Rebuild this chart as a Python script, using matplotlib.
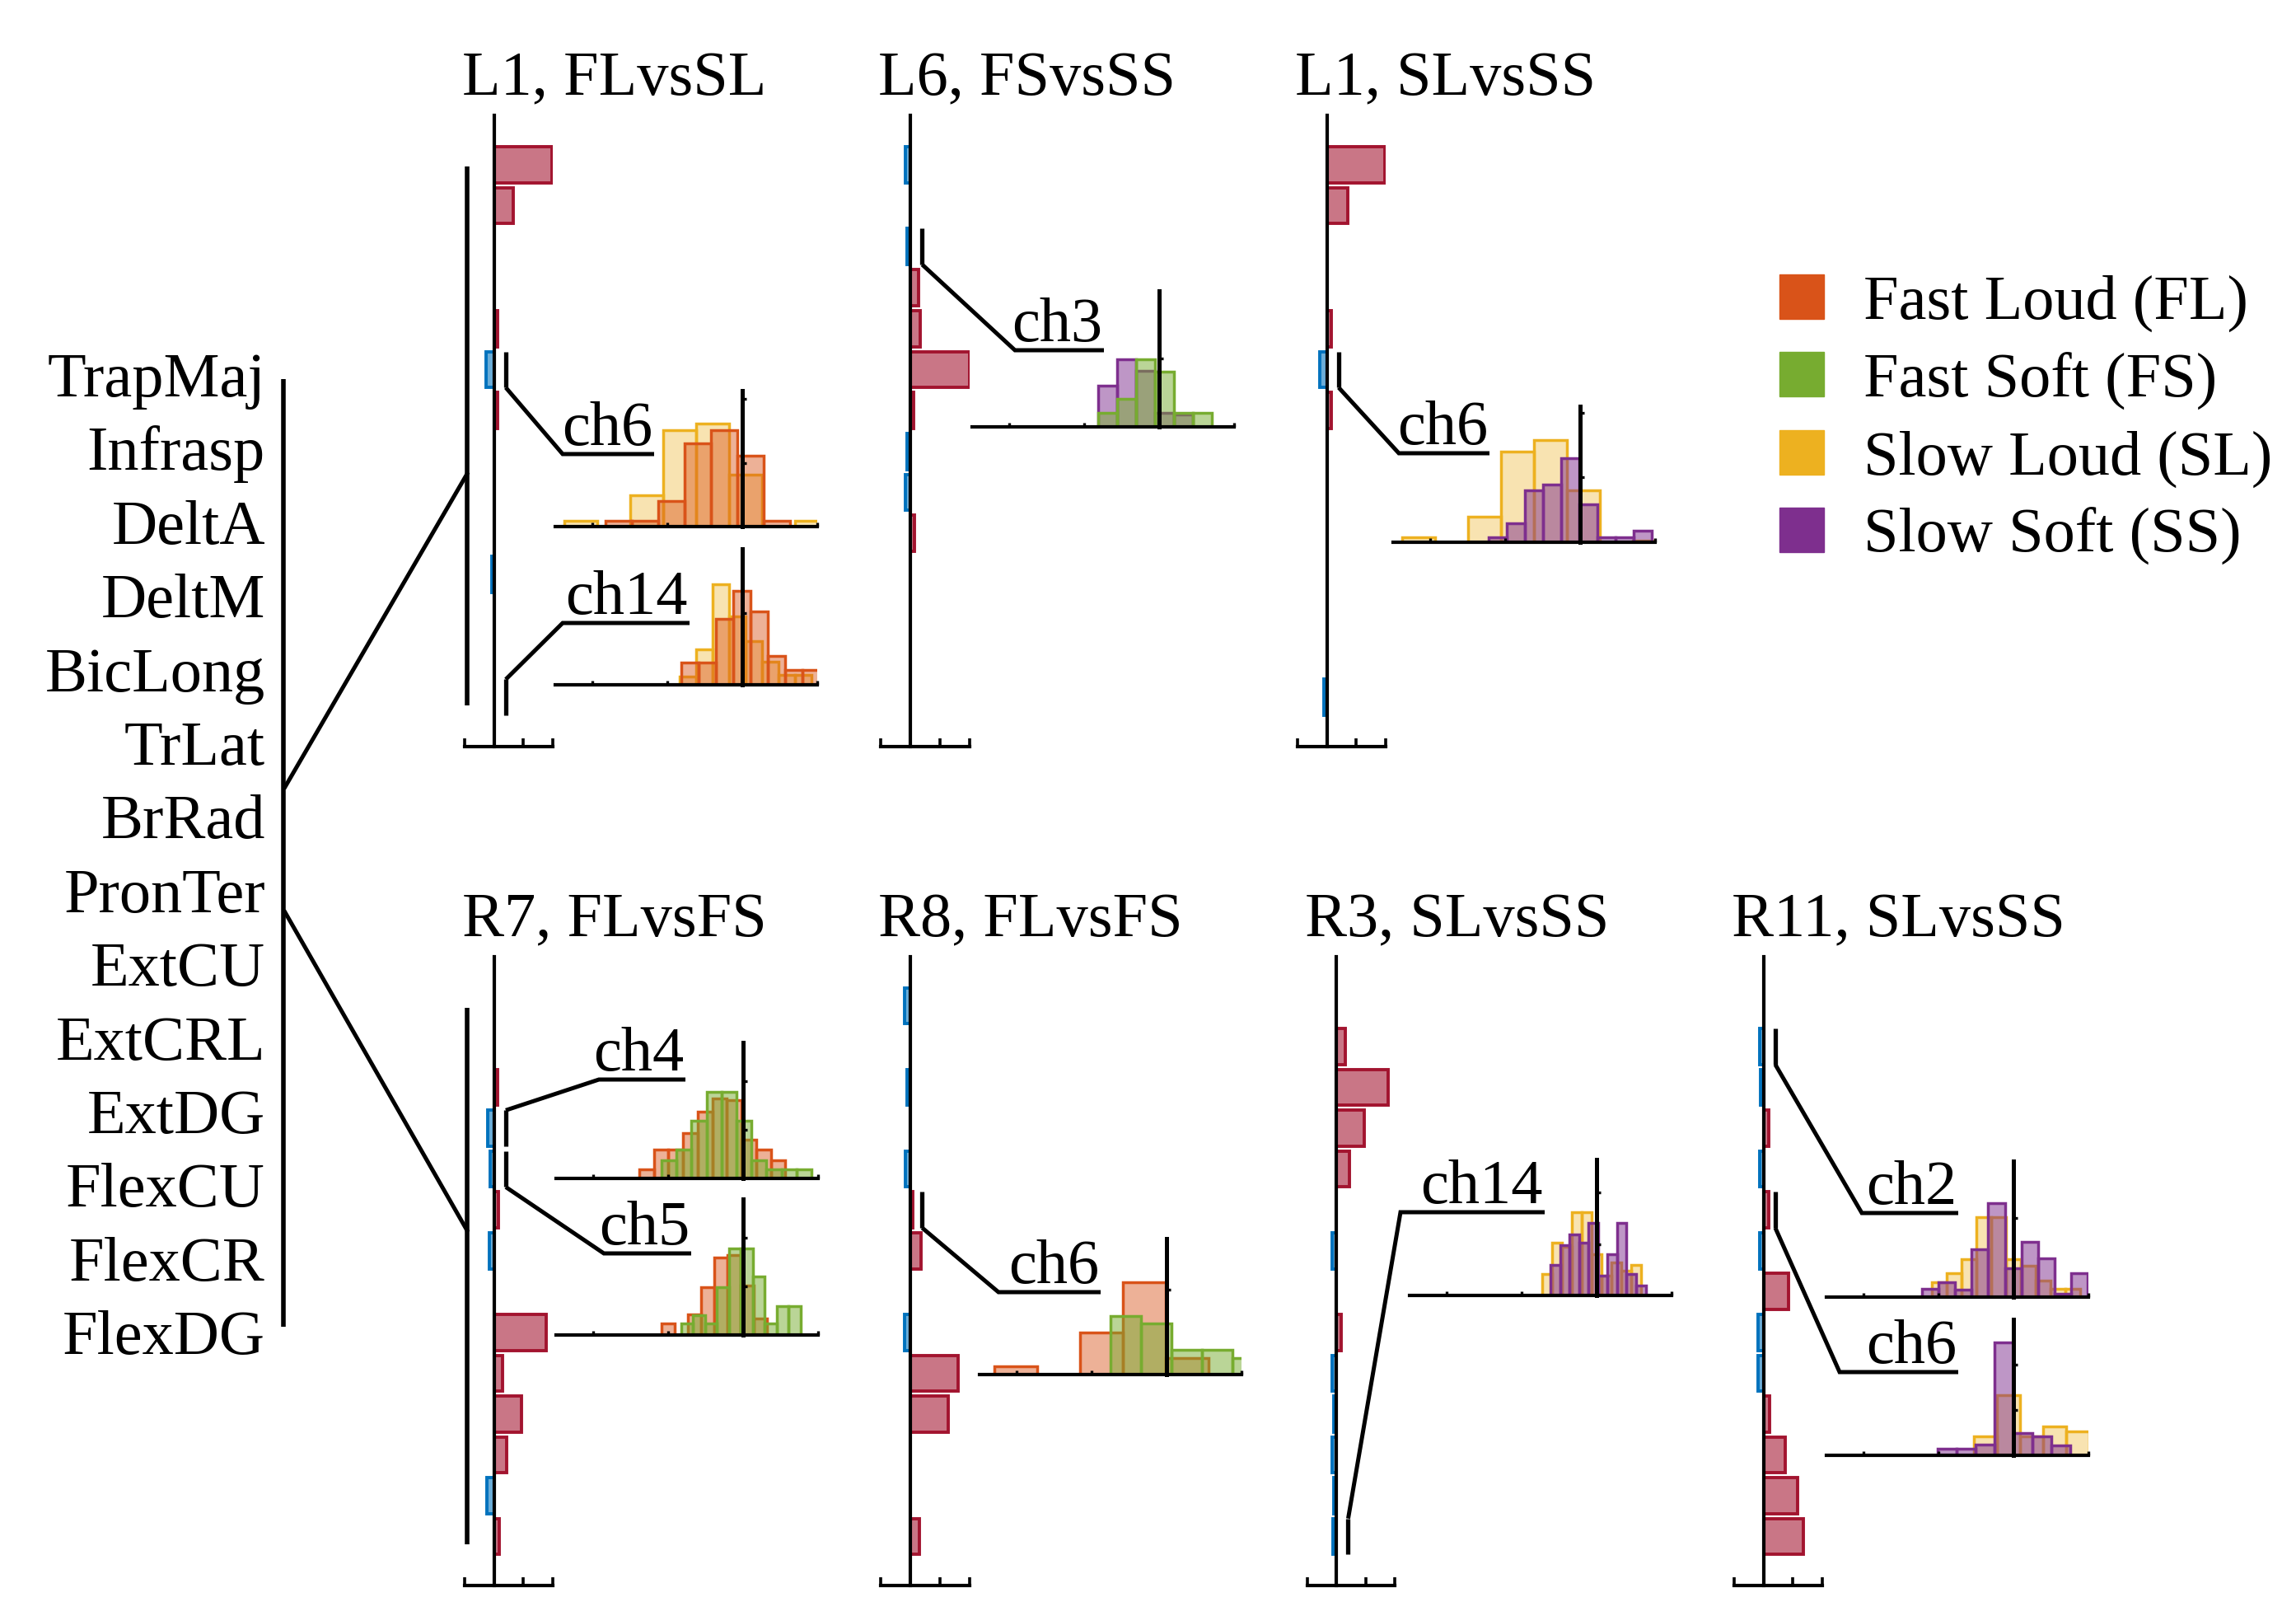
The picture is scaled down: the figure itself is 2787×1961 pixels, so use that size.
import numpy as np
import matplotlib.pyplot as plt
from matplotlib.colors import to_rgba
from matplotlib.patches import Rectangle

W, H = 2787, 1961
plt.rcParams['font.family'] = ['Liberation Serif', 'DejaVu Serif']
FS_TXT = 55

# condition colours (MATLAB defaults)
FL, FS, SL, SS = '#D95319', '#77AC30', '#EDB120', '#7E2F8E'
POS, NEG = '#A2142F', '#0072BD'

muscles = ['TrapMaj', 'Infrasp', 'DeltA', 'DeltM', 'BicLong', 'TrLat', 'BrRad',
           'PronTer', 'ExtCU', 'ExtCRL', 'ExtDG', 'FlexCU', 'FlexCR', 'FlexDG']
channels = np.arange(1, 15)

legend_names = ['Fast Loud (FL)', 'Fast Soft (FS)', 'Slow Loud (SL)', 'Slow Soft (SS)']
legend_colors = [FL, FS, SL, SS]

# bar values per panel, ch1..ch14
panel_titles = ['L1, FLvsSL', 'L6, FSvsSS', 'L1, SLvsSS',
                'R7, FLvsFS', 'R8, FLvsFS', 'R3, SLvsSS', 'R11, SLvsSS']
l1_flsl = [1.96, 0.65, 0, 0, 0.11, -0.28, 0.11, 0, 0, 0, -0.08, 0, 0, 0]
l6_fsss = [-0.16, 0, -0.12, 0.28, 0.32, 1.99, 0.12, -0.12, -0.18, 0.14, 0, 0, 0, 0]
l1_slss = [1.96, 0.70, 0, 0, 0.14, -0.23, 0.14, 0, 0, 0, 0, 0, 0, -0.11]
r7_flfs = [0, 0, 0.13, -0.21, -0.12, 0.16, -0.15, 0, 1.78, 0.30, 0.93, 0.44, -0.24, 0.19]
r8_flfs = [-0.19, 0, -0.12, 0, -0.16, 0.09, 0.35, 0, -0.19, 1.60, 1.27, 0, 0, 0.30]
r3_slss = [0, 0.31, 1.76, 0.95, 0.44, 0, -0.14, 0, 0.17, -0.14, -0.09, -0.16, -0.09, -0.12]
r11_slss = [0, -0.14, -0.09, 0.17, -0.14, 0.19, -0.14, 0.85, -0.20, -0.19, 0.21, 0.74, 1.16, 1.36]
panel_values = [l1_flsl, l6_fsss, l1_slss, r7_flfs, r8_flfs, r3_slss, r11_slss]

# inset histograms: (first bin edge, bin width, heights)
h_l1_ch6_sl = (-2.374, 0.44, [0.009, 0, 0.049, 0.151, 0.161, 0.081, 0, 0.009])
h_l1_ch6_fl = (-1.824, 0.352, [0.009, 0.009, 0.040, 0.131, 0.151, 0.111, 0.009, 0])
h_l1_ch14_sl = (-0.835, 0.22, [0.011, 0.050, 0.140, 0.095, 0.061, 0.032, 0.014, 0.014])
h_l1_ch14_fl = (-0.813, 0.231, [0.031, 0.031, 0.092, 0.131, 0.102, 0.040, 0.021, 0.021])
h_l6_ch3_ss = (-0.813, 0.253, [0.060, 0.099, 0.082, 0.020, 0.018])
h_l6_ch3_fs = (-0.813, 0.253, [0.020, 0.041, 0.099, 0.081, 0.020, 0.020])
h_l1b_ch6_sl = (-2.374, 0.44, [0.008, 0, 0.039, 0.140, 0.158, 0.080, 0, 0.003])
h_l1b_ch6_ss = (-1.220, 0.242, [0.008, 0.029, 0.080, 0.089, 0.130, 0.059, 0.008, 0.008, 0.018])
h_r7_ch4_fl = (-1.385, 0.195, [0.019, 0.059, 0.059, 0.093, 0.138, 0.165, 0.161, 0.079, 0.059, 0.038])
h_r7_ch4_fs = (-1.088, 0.20, [0.038, 0.059, 0.118, 0.178, 0.178, 0.118, 0.038, 0.019, 0.019, 0.019])
h_r7_ch5_fl = (-1.088, 0.176, [0.023, 0, 0.042, 0.099, 0.159, 0.165, 0.102, 0.034])
h_r7_ch5_fs = (-0.824, 0.159, [0.023, 0.040, 0.023, 0.099, 0.178, 0.178, 0.120, 0.023, 0.059, 0.059])
h_r8_ch6_fl = (-2.297, 0.571, [0.010, 0, 0.049, 0.109, 0.019])
h_r8_ch6_fs = (-0.747, 0.407, [0.069, 0.060, 0.029, 0.029, 0.019])
h_r3_ch14_sl = (-0.725, 0.132, [0.042, 0.102, 0.095, 0.162, 0.162, 0.080, 0.038, 0.064, 0.048, 0.060])
h_r3_ch14_ss = (-0.615, 0.127, [0.060, 0.098, 0.119, 0.102, 0.142, 0.038, 0.080, 0.142, 0.042, 0.020])
h_r11_ch2_sl = (-1.088, 0.198, [0.019, 0.030, 0.048, 0.101, 0.101, 0.048, 0.040, 0.021, 0.010, 0.010])
h_r11_ch2_ss = (-1.220, 0.221, [0.010, 0.019, 0.009, 0.060, 0.119, 0.036, 0.070, 0.049, 0.004, 0.030])
h_r11_ch6_sl = (-0.835, 0.308, [0, 0.041, 0.132, 0.041, 0.063, 0.052])
h_r11_ch6_ss = (-1.011, 0.253, [0.014, 0.014, 0.023, 0.250, 0.050, 0.041, 0.021])

# ---------------- layout (pixels, y downward) ----------------
TOP_ROW = (140, 906)
BOT_ROW = (1161, 1924)
panel_boxes = [(564, 671, TOP_ROW), (1069, 1177, TOP_ROW), (1575, 1682, TOP_ROW),
               (564, 671, BOT_ROW), (1069, 1177, BOT_ROW), (1587, 1693, BOT_ROW),
               (2105, 2212, BOT_ROW)]
UNIT = 91.0      # inset px per x unit
INSET_H = 165

# panel, channel, inset zero px, inset baseline px, y top, hists, label, underline
insets = [
    (0, 6, 901, 639, 0.213, [(h_l1_ch6_sl, SL), (h_l1_ch6_fl, FL)], 'ch6', (683, 794, 551)),
    (0, 14, 901, 831, 0.19, [(h_l1_ch14_sl, SL), (h_l1_ch14_fl, FL)], 'ch14', (683, 837, 756)),
    (1, 3, 1407, 518, 0.20, [(h_l6_ch3_ss, SS), (h_l6_ch3_fs, FS)], 'ch3', (1232, 1340, 425)),
    (2, 6, 1918, 658, 0.21, [(h_l1b_ch6_sl, SL), (h_l1b_ch6_ss, SS)], 'ch6', (1698, 1808, 550)),
    (3, 4, 902, 1430, 0.28, [(h_r7_ch4_fl, FL), (h_r7_ch4_fs, FS)], 'ch4', (727, 832, 1310)),
    (3, 5, 902, 1620, 0.28, [(h_r7_ch5_fl, FL), (h_r7_ch5_fs, FS)], 'ch5', (733, 839, 1521)),
    (4, 6, 1416, 1668, 0.16, [(h_r8_ch6_fl, FL), (h_r8_ch6_fs, FS)], 'ch6', (1212, 1336, 1568)),
    (5, 14, 1938, 1572, 0.265, [(h_r3_ch14_sl, SL), (h_r3_ch14_ss, SS)], 'ch14', (1700, 1875, 1471)),
    (6, 2, 2444, 1574, 0.172, [(h_r11_ch2_sl, SL), (h_r11_ch2_ss, SS)], 'ch2', (2260, 2377, 1472)),
    (6, 6, 2444, 1766, 0.30, [(h_r11_ch6_sl, SL), (h_r11_ch6_ss, SS)], 'ch6', (2233, 2377, 1665)),
]
face_alpha = {FL: 0.45, FS: 0.5, SL: 0.35, SS: 0.5}


def box(x0, x1, y0, y1):
    return [x0 / W, 1 - y1 / H, (x1 - x0) / W, (y1 - y0) / H]


fig = plt.figure(figsize=(W / 100, H / 100), dpi=100)
ov = fig.add_axes([0, 0, 1, 1])
ov.set_xlim(0, W)
ov.set_ylim(H, 0)
ov.axis('off')


def to_ov(ax, x, y):
    return ov.transData.inverted().transform(ax.transData.transform((x, y)))


# main panels
panels = []
for title, vals, (x0, x1, (y0, y1)) in zip(panel_titles, panel_values, panel_boxes):
    ax = fig.add_axes(box(x0, x1, y0, y1))
    ax.patch.set_visible(False)
    ax.set_xlim(-1, 2)
    ax.set_ylim(15.2, -0.2)
    vals = np.array(vals)
    nz = vals != 0
    cols = [POS if v > 0 else NEG for v in vals[nz]]
    ax.barh(channels[nz], vals[nz], height=0.88,
            color=[to_rgba(c, 0.58) for c in cols], edgecolor=cols, linewidth=2.8)
    for s in ['top', 'right']:
        ax.spines[s].set_visible(False)
    ax.spines['left'].set_position(('data', 0))
    ax.spines['left'].set_linewidth(3.0)
    ax.spines['bottom'].set_linewidth(3.0)
    ax.set_yticks([])
    ax.set_xticks([-1, 0, 1, 2])
    ax.tick_params(axis='x', direction='in', length=7, width=2.6, labelbottom=False)
    ov.text(x0 - 3, y0 - 25, title, fontsize=FS_TXT, ha='left', va='baseline')
    panels.append(ax)

# histogram insets with bracket + label
for pi, ch, zero, base, ytop, hists, lab, (ux0, ux1, uy) in insets:
    ax = fig.add_axes(box(zero - 2.5 * UNIT, zero + 1.0 * UNIT, base - INSET_H, base))
    ax.patch.set_visible(False)
    ax.set_xlim(-2.5, 1.0)
    ax.set_ylim(0, ytop)
    for (start, width, heights), c in hists:
        edges = start + width * np.arange(len(heights))
        ax.bar(edges, heights, width=width, align='edge',
               facecolor=to_rgba(c, face_alpha[c]), edgecolor=c, linewidth=2.5)
    for s in ['top', 'right']:
        ax.spines[s].set_visible(False)
    ax.spines['left'].set_position(('data', 0))
    ax.spines['left'].set_linewidth(3.6)
    ax.spines['bottom'].set_linewidth(3.0)
    ax.set_xticks([-2, -1, 0, 1])
    ax.set_yticks(np.arange(0.1, ytop, 0.1))
    ax.tick_params(direction='in', length=3.5, width=2.4, labelbottom=False, labelleft=False)

    # bracket next to the channel bar, then line to the underlined label
    pax = panels[pi]
    bx, btop = to_ov(pax, 0.4, ch - 0.44)
    _, bbot = to_ov(pax, 0.4, ch + 0.44)
    ov.plot([bx, bx], [btop, bbot], color='k', lw=3.8, solid_capstyle='butt')
    ystart = bbot if uy > bbot else btop
    ov.plot([bx, ux0, ux1], [ystart, uy, uy], color='k', lw=3.6,
            solid_joinstyle='miter', solid_capstyle='butt')
    ov.text(ux1 - 2, uy - 11, lab, fontsize=FS_TXT, ha='right', va='baseline')

# muscle labels and grouping lines
for i, m in enumerate(muscles):
    ov.text(322, 481 + 89.4 * i, m, fontsize=FS_TXT, ha='right', va='baseline')
ov.plot([344, 344], [460, 1610], color='k', lw=4.0, solid_capstyle='butt')
for pax, y_join, y_start in [(panels[0], 8.55, 955), (panels[3], 6.5, 1107)]:
    gx, gtop = to_ov(pax, -0.92, 1.05)
    _, gbot = to_ov(pax, -0.92, 14.2)
    ov.plot([gx, gx], [gtop, gbot], color='k', lw=4.0, solid_capstyle='butt')
    _, yj = to_ov(pax, -0.92, y_join)
    ov.plot([346, gx], [y_start, yj], color='k', lw=3.6)

# legend
for i, (name, c) in enumerate(zip(legend_names, legend_colors)):
    cy = 360 + 94.3 * i
    ov.add_patch(Rectangle((2160, cy - 27), 54, 54, facecolor=c, edgecolor=c, lw=1))
    ov.text(2262, cy + 27, name, fontsize=FS_TXT, ha='left', va='baseline')

fig.savefig('out.png', dpi=100)
